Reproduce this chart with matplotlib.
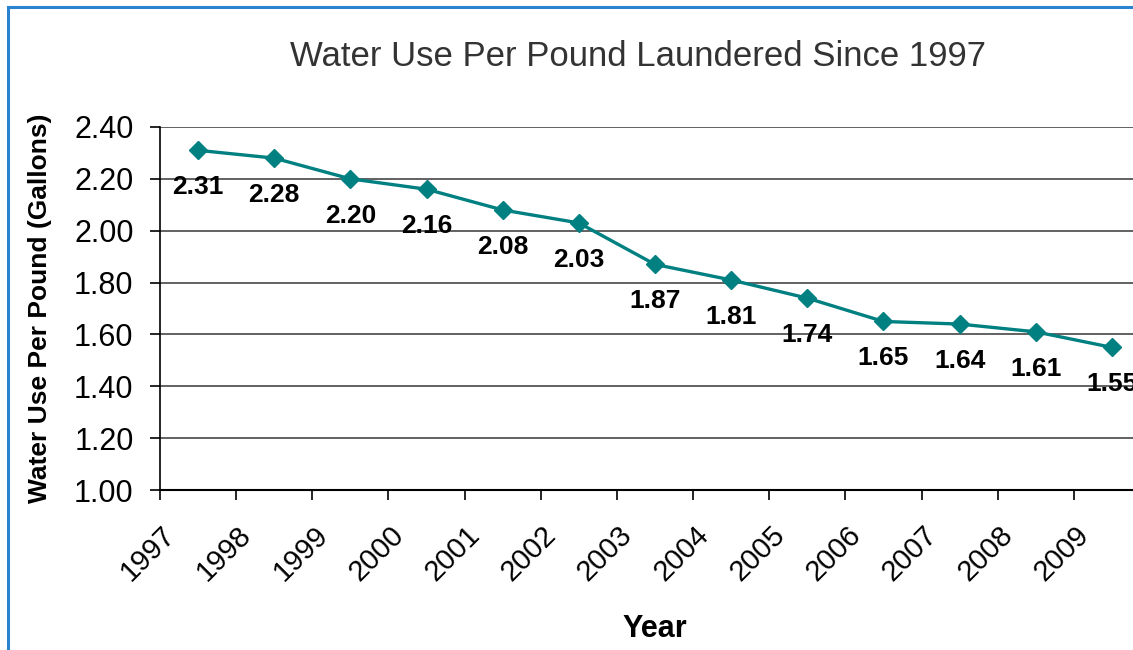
import matplotlib.pyplot as plt
from matplotlib.patches import Rectangle
from matplotlib.transforms import ScaledTranslation

plt.rcParams['font.family'] = ['Liberation Sans', 'DejaVu Sans']

years = ['1997', '1998', '1999', '2000', '2001', '2002', '2003',
         '2004', '2005', '2006', '2007', '2008', '2009']
water_use = [2.31, 2.28, 2.20, 2.16, 2.08, 2.03, 1.87,
             1.81, 1.74, 1.65, 1.64, 1.61, 1.55]
y_ticks = [1.00, 1.20, 1.40, 1.60, 1.80, 2.00, 2.20, 2.40]

fig = plt.figure(figsize=(11.33, 6.5), dpi=100)
W, H = 1133, 650

# blue frame (chart is cropped on the right and bottom)
fig.patches.append(Rectangle((8 / W, -0.1), 1.2, 1 - 7 / H + 0.1, transform=fig.transFigure,
                             fill=False, edgecolor='#2a83cf', linewidth=2.2))

ax = fig.add_axes([160 / W, 1 - 490 / H, 990 / W, 363 / H])

x = list(range(len(years)))
ax.plot(x, water_use, color='#008080', linewidth=2.4, marker='D', markersize=9.5,
        clip_on=False, zorder=3)

for xi, v in zip(x, water_use):
    ax.annotate('{:.2f}'.format(v), (xi, v), xytext=(0, -37 * 0.72), textcoords='offset points',
                ha='center', va='center', fontsize=19, fontweight='bold', color='black',
                annotation_clip=False)

ax.set_xlim(-0.5, len(years) - 0.5)
ax.set_ylim(1.0, 2.4)
ax.set_yticks(y_ticks, labels=['{:.2f}'.format(t) for t in y_ticks])
ax.grid(axis='y', color='#555555', linewidth=1.3)
ax.set_axisbelow(True)

for s in ['top', 'right']:
    ax.spines[s].set_visible(False)
ax.spines['left'].set_color('black')
ax.spines['bottom'].set_color('black')
ax.spines['left'].set_linewidth(1.2)
ax.spines['bottom'].set_linewidth(1.5)

ax.tick_params(axis='y', length=7, width=1.2, pad=12, labelsize=22, colors='black')

# category labels at centers, tick marks at boundaries
ax.set_xticks(x, labels=years, rotation=45, ha='right', va='center', rotation_mode='anchor')
ax.set_xticks([i - 0.5 for i in range(len(years) + 1)], minor=True)
ax.tick_params(axis='x', which='major', length=0, pad=29, labelsize=21)
ax.tick_params(axis='x', which='minor', length=7, width=1.2)
for lab in ax.get_xticklabels():
    lab.set_transform(lab.get_transform() + ScaledTranslation(-27 / 100, 0, fig.dpi_scale_trans))

ax.set_xlabel('Year', fontsize=22, fontweight='bold', labelpad=20)
ax.set_ylabel('Water Use Per Pound (Gallons)', fontsize=19, fontweight='bold', labelpad=16)

fig.text(638 / W, 1 - 57 / H, 'Water Use Per Pound Laundered Since 1997',
         ha='center', va='center', fontsize=25, color='#333333')

fig.savefig('out.png', dpi=100)
